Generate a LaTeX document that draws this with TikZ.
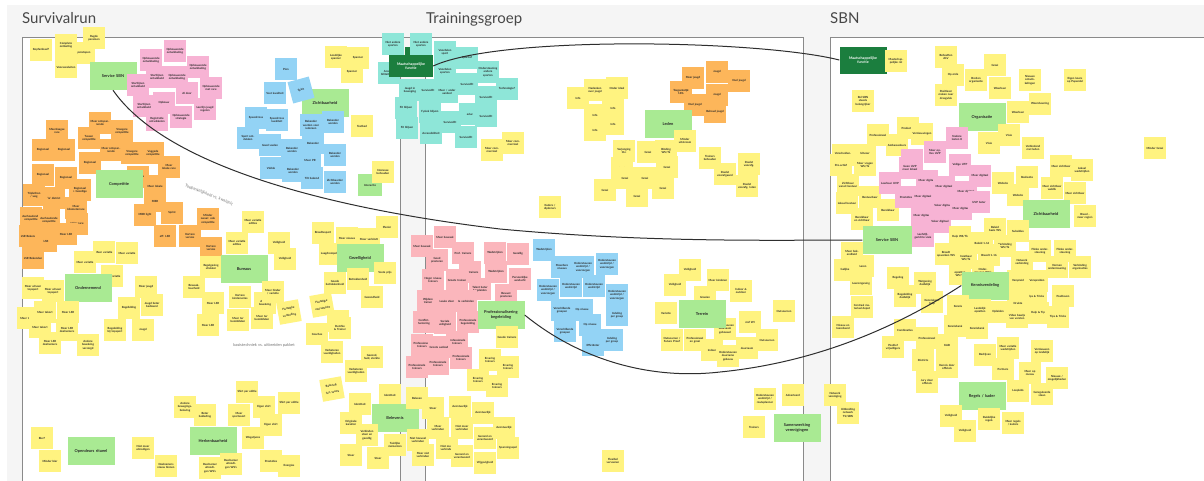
\documentclass[tikz,border=0pt]{standalone}
\usepackage{fontspec}
\setmainfont{Lato}
\newcounter{nc}
\definecolor{cYe}{HTML}{FFF380}
\definecolor{cOr}{HTML}{FDB65A}
\definecolor{cPk}{HTML}{F7B3D4}
\definecolor{cSa}{HTML}{FBB6BC}
\definecolor{cBl}{HTML}{93D3F5}
\definecolor{cTl}{HTML}{8EE6D8}
\definecolor{cGr}{HTML}{A9EA93}
\definecolor{cDg}{HTML}{1B7E3E}
\definecolor{cBg}{HTML}{F5F5F5}
\definecolor{cFr}{HTML}{8A8A8A}
\tikzset{
 note/.style={minimum width=22pt, minimum height=22pt, inner sep=0.8pt, text width=19pt, align=center, font=\fontsize{2.8}{3.3}\selectfont\bfseries, text=black!85},
 tilted/.style={rotate=10, font=\fontsize{2.8}{6.8}\selectfont\bfseries},
 hdr/.style={fill=cGr, minimum width=47pt, minimum height=28pt, inner sep=1pt, text width=43pt, align=center, font=\fontsize{4}{4.8}\selectfont\bfseries, text=black!85},
 dgn/.style={fill=cDg, text=white, minimum width=44pt, minimum height=22pt, inner sep=1pt, text width=40pt, align=center, font=\fontsize{3.6}{4.3}\selectfont\bfseries},
 conn/.style={draw=black!82, line width=1pt},
 ttl/.style={font=\fontsize{15}{18}\selectfont, text=black!72, anchor=base west, inner sep=0pt},
 lbl/.style={font=\fontsize{4}{5}\selectfont, text=black!55, inner sep=0pt},
 frame/.style={fill=white, draw=cFr, line width=0.9pt}
}
\newcommand{\sn}[5][]{\stepcounter{nc}\node[note,fill=#4,#1] (n\arabic{nc}) at (#2,#3) {#5};}
\begin{document}
\begin{tikzpicture}[x=1pt,y=-1pt]
\useasboundingbox (0,0) rectangle (1204,480);
\clip (0,0) rectangle (1204,480);
\fill[cBg] (7,5) rectangle (1210,490);
\filldraw[frame] (22,37) rectangle (400,495);
\filldraw[frame] (425,37) rectangle (803,495);
\filldraw[frame] (830,37) rectangle (1215,495);
\draw[cFr, line width=0.9pt] (400,37) -- (425,37);
\node[ttl] (tsr) at (22,23) {Survivalrun};
\node[ttl] (ttg) at (426,23) {Trainingsgroep};
\node[ttl] (tsbn) at (830,23) {SBN};

% ===== Survivalrun =====
\sn{41}{50}{cYe}{Kopfambaal?}
\sn{66}{45}{cYe}{Complete ontlasting}
\sn{94}{38}{cYe}{Rugde pensioen}
\sn{84}{53}{cYe}{patatopen}
\sn{66}{67}{cYe}{Vooraan\-sluiten}
\node[hdr] (servsr) at (113,76) {Service SBN};
% pink
\sn{175}{51}{cPk}{Opbouwende ontwikkeling}
\sn{151}{60}{cPk}{Opbouwende ontwikkeling}
\sn{198}{67}{cPk}{Opbouwende ontwikkeling}
\sn{157}{77}{cPk}{Startlijnen ontwikkeld}
\sn{177}{77}{cPk}{Opbouwende ontwikkeling}
\sn{138}{85}{cPk}{Startlijnen ontwikkeld}
\sn{187}{93}{cPk}{Al door}
\sn{211}{88}{cPk}{Opbouwende met race}
\sn{144}{106}{cPk}{Startlijnen ontwikkeld}
\sn{164}{103}{cPk}{Opbouw}
\sn{205}{109}{cPk}{Leerlijn jeugd regelen}
\sn{157}{120}{cPk}{Registratie ontwikkelen}
\sn{181}{117}{cPk}{Opbouwende strategie}
% blue
\node[hdr] (zichtsr) at (325,103) {Zichtbaarheid};
\sn{286}{69}{cBl}{Pien}
\sn{275}{93}{cBl}{Vast kwaliteit}
\sn[rotate=15]{301}{90}{cBl}{Spirit}
\sn{256}{118}{cBl}{Speedcross}
\sn{277}{120}{cBl}{Speedcross kwaliteit}
\sn{311}{125}{cBl}{Bekender worden voor iedereen}
\sn{333}{122}{cBl}{Bekender worden}
\sn{248}{138}{cBl}{Sport ontdekken}
\sn{270}{145}{cBl}{Goed voelen}
\sn{292}{150}{cBl}{Bekender worden}
\sn{313}{143}{cBl}{Bekender}
\sn{335}{155}{cBl}{Bekender worden}
\sn{310}{160}{cBl}{Meer PR}
\sn{271}{168}{cBl}{Visible}
\sn{293}{171}{cBl}{Bekender worden}
\sn{312}{178}{cBl}{Tilt bekend}
\sn{335}{182}{cBl}{Zichtbaarder worden}
\node[hdr, minimum width=24pt, minimum height=22pt, text width=20pt, font=\fontsize{2.8}{3.3}\selectfont\bfseries] (intsr) at (370,185) {Interactie};
\sn{383}{172}{cYe}{Interesse behouden}
\sn{336}{57}{cYe}{Loodrijke spanner}
\sn{358}{58}{cYe}{Spanner}
\sn{352}{72}{cYe}{Spanner}
\sn{362}{126}{cYe}{Testbed}
% orange
\sn{57}{131}{cOr}{Meerdaagse race}
\sn{100}{123}{cOr}{Meer ontspannende}
\sn{122}{131}{cOr}{Vroegere competitie}
\sn{89}{138}{cOr}{Tussen competitie}
\sn{43}{150}{cOr}{Regionaal}
\sn{64}{150}{cOr}{Regionaal}
\sn{111}{150}{cOr}{Meer ontspannende}
\sn{132}{153}{cOr}{Vroegere competitie}
\sn{153}{153}{cOr}{Vaggede competitie}
\sn{90}{163}{cOr}{Regionaal}
\sn{169}{167}{cOr}{Meer lokale race}
\sn{43}{175}{cOr}{Regionaal}
\sn{66}{178}{cOr}{Regionaal}
\sn{138}{177}{cOr}{Open race}
\sn{155}{186}{cOr}{Meer lokale}
\sn{80}{190}{cOr}{Regionaal + Gezellige}
\sn{34}{195}{cOr}{Triplethon / weg}
\sn{54}{198}{cOr}{'ie' district}
\sn{155}{201}{cOr}{MBR}
\sn{76}{208}{cOr}{Meer kilometer\-race}
\sn{31}{218}{cOr}{Aanhoudende competitie}
\sn{49}{220}{cOr}{Aanhoudende competitie}
\sn{77}{224}{cOr}{Vrijer race}
\sn{145}{215}{cOr}{MBR light}
\sn{172}{213}{cOr}{Sprint}
\sn{208}{219}{cOr}{Minder zwaar: ook competitie}
\sn{30}{236}{cOr}{LSR Bekenden}
\sn{46}{241}{cOr}{LSR}
\sn{66}{234}{cOr}{Meer LSR}
\sn{165}{236}{cOr}{eff: LSR}
\sn{190}{236}{cOr}{Kortere versies}
\sn{211}{248}{cOr}{Kortere versies}
\sn{33}{258}{cOr}{LSR Bekenden}
\node[hdr] (compsr) at (119,184) {Competitie};
% yellow middle
\sn{253}{222}{cYe}{Meer variatie edities}
\sn{237}{243}{cYe}{Meer variatie edities}
\sn{279}{243}{cYe}{Veiligheid}
\sn{285}{259}{cYe}{Veiligheid}
\sn{104}{252}{cYe}{Meer variatie}
\sn{127}{253}{cYe}{Meer variatie}
\sn{85}{262}{cYe}{Meer variatie}
\sn{112}{276}{cYe}{Meer variatie}
\sn{211}{267}{cYe}{Regelgeving strakker}
\node[hdr] (bursr) at (244,269) {Bureaus};
\sn{33}{288}{cYe}{Meer uitvoer topsport}
\sn{53}{291}{cYe}{Meer uitvoer topsport}
\node[hdr] (ondsr) at (88,288) {Ondernemend};
\sn{146}{287}{cYe}{Meer jeugd}
\sn{129}{308}{cYe}{Regel\-klding}
\sn{152}{305}{cYe}{Jeugd beter bedieend}
\sn{194}{287}{cYe}{Bewaak\-baarheid}
\sn{213}{303}{cYe}{Meer LSR}
\sn{240}{297}{cYe}{Kortere kinder\-series}
\sn{265}{303}{cYe}{Andere bewaking}
\sn{273}{292}{cYe}{Meer hinder / variatie}
\sn{238}{320}{cYe}{Meer ter bemiddelen}
\sn{262}{318}{cYe}{Meer ter bemiddelen}
\sn[tilted]{289}{312}{cYe}{Hartelijke verbinding}
\sn{28}{318}{cYe}{Meer tekort}
\sn{45}{312}{cYe}{Meer tekort}
\sn{68}{312}{cYe}{Meer LSR}
\sn{40}{327}{cYe}{Meer tekort}
\sn{67}{330}{cYe}{Meer LSR deelnemers}
\sn{50}{343}{cYe}{Meer LSR deelnemers}
\sn{88}{345}{cYe}{Andere bewaking verzorgd}
\sn{115}{330}{cYe}{Begeleiding bij topsport}
\sn{143}{330}{cYe}{Jeugd}
\sn{208}{325}{cYe}{Meer LSR}
\node[lbl] (lab2) at (264,345) {basistechniek vs. uitbreiden pakket};
% lower SR
\sn{185}{407}{cYe}{Andere bewegings\-beleving}
\sn{205}{415}{cYe}{Beter bekleding}
\sn{247}{392}{cYe}{Shirt per editie}
\sn{239}{415}{cYe}{Meer sportsoort}
\sn{264}{407}{cYe}{Eigen shirt}
\sn{271}{425}{cYe}{Eigen shirt}
\sn{289}{403}{cYe}{Shirt per editie}
\sn{253}{438}{cYe}{Wegatjures}
\sn{271}{461}{cYe}{Prestaties}
\sn{289}{466}{cYe}{Energies}
\node[hdr] (herksr) at (213,441) {Herkenbaarheid};
\sn{210}{468}{cYe}{Deelnemer uitnodigen WS's}
\sn{231}{464}{cYe}{Deelnemer uitnodigen WS's}
\sn{143}{448}{cYe}{Niet meer uitnodigen}
\sn{166}{466}{cYe}{Deelnemers nieuw binnen}
\sn{42}{438}{cYe}{Bier?}
\sn{50}{461}{cYe}{Minder bier}
\node[hdr] (opensr) at (91,451) {Opendeurs ritueel};
% SR right lower
\sn{323}{233}{cYe}{Breedte\-sport}
\sn{347}{238}{cYe}{Meer nieuws}
\sn{369}{239}{cYe}{Meer verbindt}
\sn{387}{227}{cYe}{Plezier}
\sn{330}{254}{cYe}{Laag\-drempelig}
\node[hdr] (gezsr) at (360,258) {Gezelligheid};
\sn{385}{273}{cYe}{Vaste prijs}
\sn{335}{283}{cYe}{Goede betrokken\-heid}
\sn{358}{279}{cYe}{Betrokken\-heid}
\sn{372}{297}{cYe}{Gezondheid}
\sn[tilted]{322}{305}{cYe}{Hartelijke vooruitzicht}
\sn{338}{321}{cYe}{Trainers}
\sn{317}{334}{cYe}{Coaches}
\sn{340}{328}{cYe}{Dutchie \& Trainer}
\sn{332}{352}{cYe}{Verbeteren vaardig\-heden}
\sn{372}{357}{cYe}{Gezond, huid, sterkte}
\sn{356}{371}{cYe}{Verbeteren vaardig\-heden}
\sn[tilted]{332}{389}{cYe}{Beleving, fun, teams}
\sn{390}{395}{cYe}{Identiteit}
\sn{360}{404}{cYe}{Identiteit}
\node[hdr] (belsr) at (395,418) {Belevenis};
\sn{351}{423}{cYe}{Originele karakter}
\sn{367}{435}{cYe}{Verbinden stoer en gezellig}
\sn{395}{445}{cYe}{Tuinlijke momenten}
\sn{351}{455}{cYe}{Stoer}
\sn{378}{458}{cYe}{Stoer}

% ===== Trainingsgroep =====
\sn{389}{73}{cTl}{Accessi\-biliteit jeugd}
\sn{445}{71}{cTl}{Voordelen sporten}
\node[dgn] (mftg) at (411,66) {Maatschappelijke functie};
\fill[cDg] (405,47) rectangle (411,56);
\sn{393}{44}{cTl}{Niet andere sporten}
\sn{421}{44}{cTl}{Niet andere sporten}
\sn{445}{52}{cTl}{Voordelen sport}
\sn{467}{58}{cTl}{Sportief}
\sn{488}{72}{cTl}{Onder\-steuning andere sporten}
\sn{507}{89}{cTl}{Techno\-logie?}
\sn{410}{90}{cTl}{Jeugd in beweging}
\sn{428}{90}{cTl}{Survivalfit}
\sn{447}{92}{cTl}{Meer / ander aanbod}
\sn{467}{84}{cTl}{Survivalfit}
\sn{486}{97}{cTl}{Survivalfit}
\sn{406}{108}{cTl}{Fit blijven}
\sn{430}{112}{cTl}{Fysiek blijven}
\sn{470}{114}{cTl}{educ}
\sn{486}{116}{cTl}{Survivalfit}
\sn{450}{122}{cTl}{Survivalfit}
\sn{407}{128}{cTl}{Fit blijven}
\sn{431}{133}{cTl}{Accessi\-biliteit}
\sn{466}{137}{cTl}{Survivalfit}
\sn{492}{150}{cYe}{Meer commercieel}
\sn{513}{143}{cYe}{Meer commercieel}
\sn{550}{207}{cYe}{Kaders / diploma's}
\sn{578}{98}{cYe}{Info}
\sn{595}{90}{cYe}{Nadenken over jeugd}
\sn{617}{88}{cYe}{Onder ideel}
\sn{595}{115}{cYe}{Info}
\sn{613}{108}{cYe}{Info}
\sn{595}{130}{cYe}{Info}
\sn{613}{124}{cYe}{Info}
% orange TG
\sn{681}{92}{cOr}{Toegankelijk 16\%}
\sn{693}{78}{cOr}{Meer jeugd}
\sn{717}{72}{cOr}{Jeugd}
\sn{739}{81}{cOr}{Oud jeugd}
\sn{717}{95}{cOr}{Jeugd}
\sn{695}{105}{cOr}{Oud jeugd}
\sn{715}{112}{cOr}{Behoud jeugd}
\node[hdr] (ledentg) at (668,124) {Leden};
\sn{685}{141}{cYe}{Minder uitstroom}
\sn{624}{151}{cYe}{Verjonging 16+}
\sn{648}{152}{cYe}{Groei}
\sn{666}{151}{cYe}{Binding WS/Tk}
\sn{710}{158}{cYe}{Trainers behouden}
\sn{749}{164}{cYe}{Doelst voorafg.}
\sn{622}{168}{cYe}{Groei}
\sn{667}{167}{cYe}{Groei}
\sn{625}{178}{cYe}{Groei}
\sn{645}{178}{cYe}{Groei}
\sn{605}{190}{cYe}{Groei}
\sn{637}{196}{cYe}{Groei}
\sn{663}{188}{cYe}{Groei}
\sn{725}{174}{cYe}{Doelst voorafgaand}
\sn{747}{186}{cYe}{Doelst voorafg. laten}
% salmon TG
\sn{445}{237}{cSa}{Meer bewaak}
\sn{422}{246}{cSa}{Meer bewaak}
\sn{437}{260}{cSa}{Goed presteren}
\sn{463}{253}{cSa}{Prof. trainers}
\sn{495}{253}{cSa}{Wedstrijden}
\sn{518}{254}{cSa}{Gezellig}
\sn{470}{272}{cSa}{Prof. trainers}
\sn{496}{272}{cSa}{Wedstrijden}
\sn{520}{279}{cSa}{Persoonlijke aandacht}
\sn{433}{280}{cSa}{Hoger niveau trainers}
\sn{457}{280}{cSa}{Groots trainen}
\sn{480}{289}{cSa}{Talent beter begeleiden}
\sn{506}{295}{cSa}{Bewust presteren}
\sn{428}{301}{cSa}{Wijdere trainer}
\sn{447}{301}{cSa}{Leuke sfeer}
\sn{466}{301}{cSa}{Ie verbinden}
\sn{424}{322}{cSa}{Conflict\-hantering}
\sn{445}{323}{cSa}{Sociale veiligheid}
\sn{468}{322}{cSa}{Professionele begeleiding}
\sn{422}{345}{cSa}{Professionele trainers}
\sn{457}{342}{cSa}{Professionele trainers}
\sn{439}{347}{cSa}{Groots aanbod}
\sn{461}{358}{cSa}{Professionele trainers}
\sn{417}{367}{cSa}{Professionele trainers}
\sn{438}{364}{cSa}{Professionele trainers}
\node[hdr] (profbeg) at (501,315) {Professionalisering begeleiding};
\sn{507}{337}{cYe}{Goede trainers}
\sn{490}{360}{cYe}{Ervaring trainers}
\sn{508}{367}{cYe}{Ervaring trainers}
\sn{478}{380}{cYe}{Ervaring trainers}
\sn{497}{386}{cYe}{Ervaring trainers}
% blue TG
\sn{544}{250}{cBl}{Wedstrijden}
\sn{562}{267}{cBl}{Meerdere niveaus}
\sn{583}{267}{cBl}{Onder\-steunen wedstrijd / voorzorgen}
\sn{607}{264}{cBl}{Onder\-steunen wedstrijd / voorzorgen}
\sn{548}{290}{cBl}{Onder\-steunen wedstrijd / voorzorgen}
\sn{571}{286}{cBl}{Onder\-steunen wedstrijd}
\sn{594}{286}{cBl}{Onder\-steunen wedstrijd}
\sn{617}{295}{cBl}{Onder\-steunen wedstrijd / voorzorgen}
\sn{562}{310}{cBl}{Verschil\-lende groepen}
\sn{582}{310}{cBl}{Op niveau}
\sn{617}{315}{cBl}{Indeling per groep}
\sn{565}{331}{cBl}{Verschil\-lende groepen}
\sn{590}{325}{cBl}{Op niveau}
\sn{593}{345}{cBl}{Efficiënter}
\sn{612}{340}{cBl}{Indeling per groep}
% yellow TG bottom
\sn{417}{398}{cYe}{Beleven}
\sn{433}{408}{cYe}{Stoer}
\sn{460}{407}{cYe}{Avontuurlijk}
\sn{483}{413}{cYe}{Avontuurlijk}
\sn{438}{428}{cYe}{Meer verbinden}
\sn{462}{428}{cYe}{Niet meer verbinden}
\sn{504}{428}{cYe}{Avontuurlijk}
\sn{418}{440}{cYe}{Niet hoeveel verbinden}
\sn{485}{438}{cYe}{Gezond en verantwoord}
\sn{447}{448}{cYe}{Niet meer verbinden}
\sn{508}{448}{cYe}{Spannings\-spel}
\sn{423}{455}{cYe}{Meer niet verbinden}
\sn{462}{456}{cYe}{Gezond en verantwoord}
\sn{485}{463}{cYe}{Vrijgevig\-heid}
% TG right bottom
\sn{690}{270}{cYe}{Veiligheid}
\sn{675}{285}{cYe}{Veiligheid}
\sn{718}{280}{cYe}{Meer kinderen}
\sn{741}{291}{cYe}{Indoor \& outdoor}
\sn{705}{297}{cYe}{Groeien}
\sn{666}{313}{cYe}{Variatie}
\sn{784}{311}{cYe}{Outsourcen}
\sn{750}{322}{cYe}{staf WI}
\sn{725}{329}{cYe}{Onder\-steunen duurzaam gebouwd}
\sn{672}{340}{cYe}{Outsourcen / Future Proof}
\sn{695}{340}{cYe}{Professioneel en groei}
\sn{747}{348}{cYe}{duurzaam}
\sn{767}{340}{cYe}{Outsourcen}
\sn{712}{350}{cYe}{Indoor}
\sn{728}{356}{cYe}{Onder\-steunen duurzame gebouw}
\node[hdr] (terrtg) at (702,314) {Terrein};
\sn{765}{399}{cYe}{Onder\-steunen wedstrijd / routeplanner}
\sn{793}{395}{cYe}{Adverteerd}
\sn{754}{427}{cYe}{Trainers}
\node[hdr] (samtg) at (797,428) {Samenwerking verenigingen};
\sn{613}{461}{cYe}{Flexibel vervoeren}

% ===== SBN =====
\node[dgn, minimum width=47pt, minimum height=27pt] (mfsbn) at (863,60) {Maatschappelijke functie};
\sn{896}{61}{cYe}{Maatschap\-pelijke rol}
\sn{863}{101}{cYe}{Rol SBN steeds belangrijker}
\sn{878}{135}{cYe}{Profes\-sioneel}
\sn{897}{145}{cYe}{Ambas\-sadeurs}
\sn{843}{155}{cYe}{Verscheiden\-heid}
\sn{865}{155}{cYe}{Uitvoer rondjes}
\sn{946}{57}{cYe}{Behoeften ALV}
\sn{953}{75}{cYe}{Op orde}
\sn{946}{95}{cYe}{Positiever maken naar draagvlak}
\sn{976}{80}{cYe}{Breiten organisatie}
\sn{995}{65}{cYe}{Groei}
\sn{1000}{88}{cYe}{Weerbaar}
\sn{1030}{80}{cYe}{Nieuwe ontwik\-kelingen}
\sn{1040}{104}{cYe}{Woord\-voering}
\sn{1018}{112}{cYe}{Weerbaar}
\sn{1075}{80}{cYe}{Eigen koers op Papendal}
\node[hdr] (orgsbn) at (982,117) {Organisatie};
\sn{989}{143}{cYe}{Visie}
\sn{1009}{135}{cYe}{Visie}
\sn{1033}{148}{cYe}{Verbindend met leden}
\sn{1155}{148}{cYe}{Minder Groei}
\sn{908}{128}{cYe}{Producten}
\sn{922}{134}{cYe}{Vernieu\-wingen}
% left column SBN
\sn{841}{165}{cYe}{Pro-actief}
\sn{865}{165}{cYe}{Meer vragen WS/Tk}
\sn{848}{185}{cYe}{Zichtbaar vanuit bestuur}
\sn{847}{203}{cYe}{Lokaal bestuur}
\sn{870}{197}{cYe}{Bestuur\-baar}
\sn{862}{219}{cYe}{Bereikbaar en zichtbaar}
\sn{888}{210}{cYe}{Bereikbaar}
% pink SBN
\sn{912}{160}{cPk}{Geen UVP}
\sn{935}{152}{cPk}{Meer opties UVP}
\sn{957}{138}{cPk}{Nadere lesten 8}
\sn{890}{183}{cPk}{Leerbaar UVP}
\sn{910}{168}{cPk}{Geen UVP meer lokaal}
\sn{960}{165}{cPk}{Veilige UTP}
\sn{980}{176}{cPk}{Meer digitaal}
\sn{927}{181}{cPk}{Meer digitaal}
\sn{944}{187}{cPk}{Meer digitaal}
\sn{966}{192}{cPk}{Meer digitaal}
\sn{906}{197}{cPk}{Prestaties}
\sn{923}{197}{cPk}{Meer digitaal}
\sn{943}{206}{cPk}{Vaker digitaal}
\sn{961}{209}{cPk}{Meer digitaal}
\sn{979}{202}{cPk}{UVP beter}
\sn{922}{216}{cPk}{Meer digitaal}
\sn{940}{222}{cPk}{Vaker digitaal}
\sn{923}{236}{cPk}{Leefstijl\-gerichte visie}
\node[hdr, minimum width=49pt] (servsbn) at (887,240) {Service SBN};
\sn{852}{253}{cYe}{Meer bekendheid}
\sn{845}{270}{cYe}{Gelijke}
\sn{863}{266}{cYe}{Leren}
\sn{861}{284}{cYe}{Leer\-omgeving}
\sn{862}{307}{cYe}{Centraal materiaal depot}
\sn{843}{327}{cYe}{Niveau en toereikend}
\sn{898}{278}{cYe}{Regeling}
\sn{925}{283}{cYe}{Wetgeving duidelijk}
\sn{905}{296}{cYe}{Begeleiding duidelijk}
\sn{932}{302}{cYe}{Kenniskaart hulp}
% right SBN
\sn{1003}{183}{cYe}{Website}
\sn{1027}{177}{cYe}{Realisatie}
\sn{1018}{195}{cYe}{Website}
\sn{1061}{166}{cYe}{Meer zichtbaar}
\sn{1082}{170}{cYe}{Lokaal wedstrijden}
\sn{1052}{188}{cYe}{Meer zichtbaar weblik}
\sn{1075}{193}{cYe}{Meer zichtbaar}
\node[hdr] (zichsbn) at (1046,214) {Zichtbaarheid};
\sn{1085}{216}{cYe}{Breed - meer regio's}
\sn{995}{229}{cYe}{Beleid basis WS}
\sn{1018}{231}{cYe}{Subsidies}
\sn{960}{237}{cYe}{Hulp WS/Tk}
\sn{982}{243}{cYe}{Beleid 1-16}
\sn{1005}{246}{cYe}{Verbinding WS/Tk}
\sn{1040}{251}{cYe}{Flinke onder\-steuning}
\sn{1065}{251}{cYe}{Flinke onder\-steuning}
\sn{946}{254}{cYe}{Breedt opwerken WS}
\sn{966}{258}{cYe}{Inzetbaar WS/Tk}
\sn{989}{255}{cYe}{Breedt 1-16}
\sn{1022}{262}{cYe}{Netwerk verbinding}
\sn{1057}{267}{cYe}{Vormen onder\-steuning}
\sn{1080}{267}{cYe}{Verbinding organisaties}
\sn{960}{274}{cYe}{opzetten WS/Tk}
\sn{983}{271}{cYe}{Onder\-steunen WS's}
\sn{1018}{281}{cYe}{Verspreid}
\sn{1037}{281}{cYe}{Verspreiden}
\sn{1063}{296}{cYe}{Positieven}
\sn{1036}{297}{cYe}{Tips \& Tricks}
\sn{1018}{303}{cYe}{Drukte}
\node[hdr] (kennis) at (985,285.5) {Kennisverdeling};
\sn{958}{306}{cYe}{Kennis}
\sn{980}{310}{cYe}{Landelijk opzetten}
\sn{998}{312}{cYe}{Opleiden}
\sn{1038}{313}{cYe}{Hulp \& Tip}
\sn{1017}{317}{cYe}{Video bewijs van vorsten}
\sn{1058}{317}{cYe}{Tips \& Tricks}
% lower SBN
\sn{905}{330}{cYe}{Combinaties}
\sn{955}{326}{cYe}{Kennisbank}
\sn{977}{328}{cYe}{Kennisbank}
\sn{927}{338}{cYe}{Profes\-sioneel}
\sn{893}{347}{cYe}{Positief vrijwilligers}
\sn{947}{345}{cYe}{KAB}
\sn{923}{360}{cYe}{Districts}
\sn{947}{367}{cYe}{Kennis door officials}
\sn{927}{382}{cYe}{Jury door officials}
\sn{985}{355}{cYe}{Bedrijven}
\sn{1008}{348}{cYe}{Meer variatie wedstrijden}
\sn{1003}{369}{cYe}{Partners}
\sn{1042}{351}{cYe}{Vernieuwen op landelijk}
\sn{1030}{373}{cYe}{Meer op niveau}
\sn{1057}{378}{cYe}{Nieuwe / mogelijkheden}
\sn{1018}{391}{cYe}{Loopkids}
\sn{1042}{394}{cYe}{Gereguleerde steun}
\node[hdr] (regsbn) at (982,396) {Regels / kader};
\sn{951}{416}{cYe}{Veiligheid}
\sn{989}{419}{cYe}{Duidelijke regels}
\sn{1013}{423}{cYe}{Meer regels / kaders}
\sn{965}{431}{cYe}{Veiligheid}
\sn{835}{395}{cYe}{Netwerk vereniging}
\sn{848}{413}{cYe}{Uitbreiding netwerk TS/SBN}

% ===== connectors =====
\draw[conn] (servsr.south) .. controls (160,158) and (300,205) .. (500,229) .. controls (650,243) and (780,240) .. (servsbn.west);
\draw[conn] (mftg.east) .. controls (500,35) and (760,40) .. (mfsbn.west);
\draw[conn] (profbeg.east) .. controls (580,360) and (650,380) .. (720,372) .. controls (820,362) and (900,325) .. (kennis.west);
\node[lbl, rotate=-22] (lab1) at (209,195) {Toegankelijkheid vs. kwaliteit};
\end{tikzpicture}
\end{document}
